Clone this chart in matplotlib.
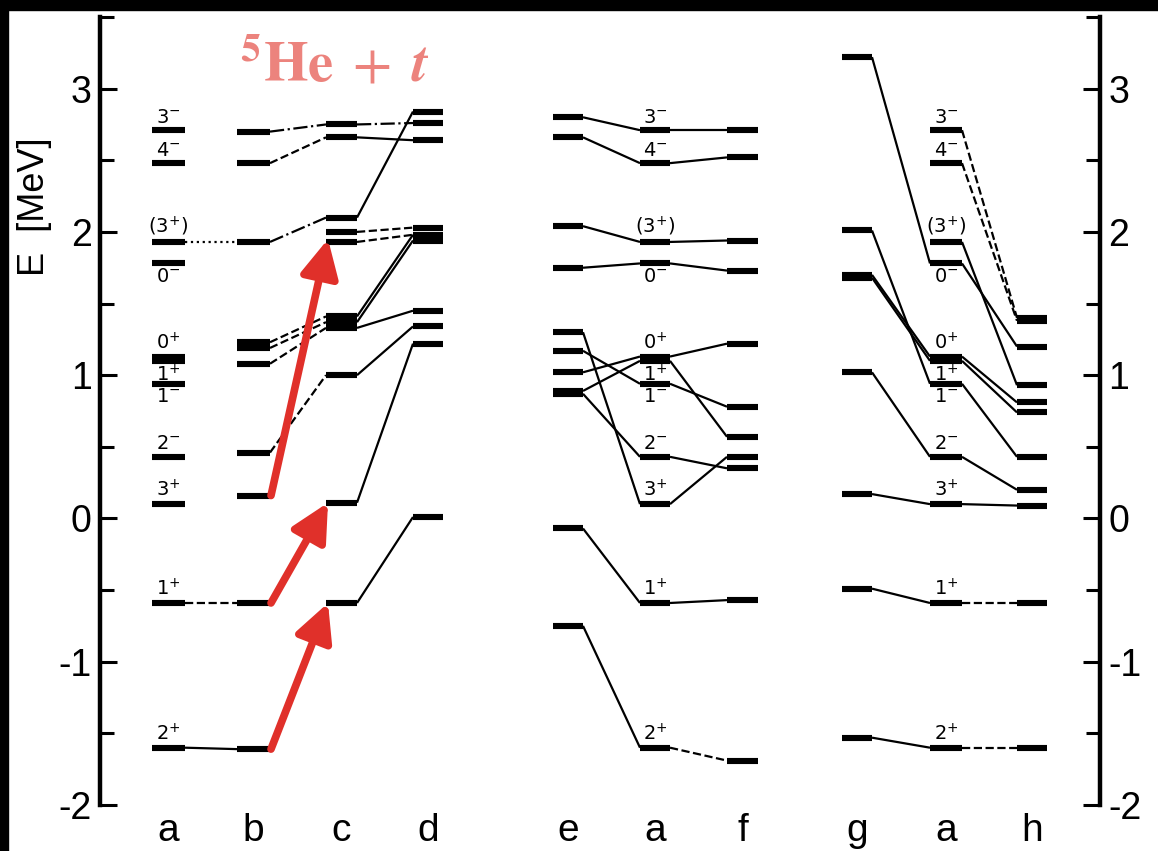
import matplotlib
matplotlib.use("Agg")
import matplotlib.pyplot as plt
from matplotlib.ticker import MultipleLocator, FixedLocator
from matplotlib.patches import Rectangle

plt.rcParams["axes.unicode_minus"] = False

# ---- level energies (MeV) per column ----
E_A = [2.71, 2.48, 1.93, 1.78, 1.13, 1.10, 0.94, 0.43, 0.10, -0.59, -1.60]
A_LABELS = [r"$3^{-}$", r"$4^{-}$", r"$(3^{+})$", r"$0^{-}$", r"$0^{+}$", r"$1^{+}$",
            r"$1^{-}$", r"$2^{-}$", r"$3^{+}$", r"$1^{+}$", r"$2^{+}$"]
A_LABEL_SIDE = ["above", "above", "above", "below", "above", "below",
                "below", "above", "above", "above", "above"]

E_B = [2.70, 2.48, 1.93, 1.23, 1.19, 1.08, 0.46, 0.16, -0.59, -1.61]
E_C = [2.75, 2.66, 2.10, 2.00, 1.93, 1.41, 1.37, 1.33, 1.00, 0.11, -0.59]
E_D = [2.84, 2.76, 2.64, 2.03, 1.98, 1.94, 1.45, 1.34, 1.22, 0.01]
E_E = [2.80, 2.66, 2.04, 1.75, 1.30, 1.17, 1.02, 0.89, 0.87, -0.07, -0.75]
E_F = [2.71, 2.52, 1.94, 1.73, 1.22, 0.78, 0.57, 0.43, 0.35, -0.57, -1.69]
E_G = [3.22, 2.01, 1.70, 1.68, 1.02, 0.17, -0.49, -1.53]
E_H = [1.40, 1.38, 1.20, 0.93, 0.81, 0.74, 0.43, 0.20, 0.09, -0.59, -1.60]

# correlation lines: (E_left, E_right, linestyle)
LINK_A1_B = [(1.93, 1.93, ":"), (-0.59, -0.59, "--"), (-1.60, -1.61, "-")]
LINK_B_C = [(2.70, 2.75, "-."), (2.48, 2.66, "--"), (1.93, 2.10, "-."),
            (1.23, 1.41, "--"), (1.19, 1.37, "--"), (1.08, 1.33, "--"),
            (0.46, 1.00, "--")]
LINK_C_D = [(2.75, 2.76, "-."), (2.66, 2.64, "-"), (2.10, 2.84, "-"),
            (2.00, 2.03, "--"), (1.93, 1.98, "--"), (1.41, 1.98, "-"),
            (1.37, 1.94, "-"), (1.33, 1.45, "-"), (1.00, 1.34, "-"),
            (0.11, 1.22, "-"), (-0.59, 0.01, "-")]
LINK_E_A2 = [(2.80, 2.71, "-"), (2.66, 2.48, "-"), (2.04, 1.93, "-"),
             (1.75, 1.78, "-"), (1.30, 0.10, "-"), (1.17, 0.94, "-"),
             (1.02, 1.13, "-"), (0.89, 1.10, "-"), (0.87, 0.43, "-"),
             (-0.07, -0.59, "-"), (-0.75, -1.60, "-")]
LINK_A2_F = [(2.71, 2.71, "-"), (2.48, 2.52, "-"), (1.93, 1.94, "-"),
             (1.78, 1.73, "-"), (1.13, 1.22, "-"), (1.10, 0.57, "-"),
             (0.94, 0.78, "-"), (0.43, 0.35, "-"), (0.10, 0.43, "-"),
             (-0.59, -0.57, "-"), (-1.60, -1.69, "--")]
LINK_G_A3 = [(3.22, 1.78, "-"), (2.01, 0.94, "-"), (1.70, 1.13, "-"),
             (1.68, 1.10, "-"), (1.02, 0.43, "-"), (0.17, 0.10, "-"),
             (-0.49, -0.59, "-"), (-1.53, -1.60, "-")]
LINK_A3_H = [(2.71, 1.40, "--"), (2.48, 1.38, "--"), (1.93, 0.93, "-"),
             (1.78, 1.20, "-"), (1.13, 0.81, "-"), (1.10, 0.74, "-"),
             (0.94, 0.43, "-"), (0.43, 0.20, "-"), (0.10, 0.09, "-"),
             (-0.59, -0.59, "--"), (-1.60, -1.60, "--")]

# 5He + t shifts (b -> c)
ARROWS_B_C = [(0.16, 1.95), (-0.59, 0.11), (-1.61, -0.59)]

COLUMN_NAMES = ["a", "b", "c", "d", "e", "a", "f", "g", "a", "h"]

# ---- layout (horizontal extent of each column's level bars) ----
SPAN = {"a1": (152, 185), "b": (237, 270), "c": (326, 357), "d": (413, 443),
        "e": (553, 583), "a2": (640, 670), "f": (727, 758),
        "g": (842, 872), "a3": (930, 962), "h": (1017, 1047)}
ORDER = ["a1", "b", "c", "d", "e", "a2", "f", "g", "a3", "h"]
LEVELS = {"a1": E_A, "b": E_B, "c": E_C, "d": E_D, "e": E_E, "a2": E_A,
          "f": E_F, "g": E_G, "a3": E_A, "h": E_H}
LINKS = [("a1", "b", LINK_A1_B), ("b", "c", LINK_B_C), ("c", "d", LINK_C_D),
         ("e", "a2", LINK_E_A2), ("a2", "f", LINK_A2_F),
         ("g", "a3", LINK_G_A3), ("a3", "h", LINK_A3_H)]

W, H = 1158, 851
fig = plt.figure(figsize=(W / 100, H / 100), dpi=100)
fig.patch.set_facecolor("white")
# dark scan edge along top and left
fig.add_artist(Rectangle((0, 1 - 10 / H), 1, 10 / H, transform=fig.transFigure,
                         color="black", zorder=10))
fig.add_artist(Rectangle((0, 0), 8 / W, 1, transform=fig.transFigure,
                         color="black", zorder=10))

ax = fig.add_axes([100 / W, 46 / H, 1000 / W, 788 / H])
ax.set_xlim(100, 1100)
ax.set_ylim(-2, 3.5)
ax.set_facecolor("none")

for s in ("top", "bottom"):
    ax.spines[s].set_visible(False)
for s in ("left", "right"):
    ax.spines[s].set_linewidth(3.2)

ax.yaxis.set_major_locator(MultipleLocator(1))
ax.yaxis.set_minor_locator(FixedLocator([-1.5, -0.5, 0.5, 1.5, 2.5, 3.5]))
ax.tick_params(axis="y", which="both", direction="in", left=True, right=True,
               labelleft=True, labelright=True, width=2.2, pad=6)
ax.tick_params(axis="y", which="major", length=12, labelsize=27)
ax.tick_params(axis="y", which="minor", length=10)
ax.set_xticks([])
for lab in ax.get_yticklabels():
    lab.set_fontfamily("Liberation Sans")

# level bars
for key in ORDER:
    x0, x1 = SPAN[key]
    ax.hlines(LEVELS[key], x0, x1, colors="black", linewidth=4.4,
              capstyle="butt")

# correlation lines
for left, right, pairs in LINKS:
    xl = SPAN[left][1]
    xr = SPAN[right][0]
    for e1, e2, ls in pairs:
        ax.plot([xl, xr], [e1, e2], color="black", linewidth=1.6,
                linestyle=ls, solid_capstyle="butt")

# spin-parity labels on the reference spectra
for key in ("a1", "a2", "a3"):
    xc = sum(SPAN[key]) / 2
    for e, lab, side in zip(E_A, A_LABELS, A_LABEL_SIDE):
        if side == "above":
            ax.text(xc, e + 0.025, lab, ha="center", va="bottom", fontsize=14)
        else:
            ax.text(xc, e - 0.025, lab, ha="center", va="top", fontsize=14)

# column letters
for key, name in zip(ORDER, COLUMN_NAMES):
    xc = sum(SPAN[key]) / 2
    ax.text(xc, -2.25, name, ha="center", va="baseline", fontsize=28,
            family="Liberation Sans", clip_on=False)

# red arrows b -> c
for e1, e2 in ARROWS_B_C:
    ax.annotate("", xy=(SPAN["c"][0] + 2, e2), xytext=(SPAN["b"][1] + 1, e1),
                arrowprops=dict(arrowstyle="-|>,head_length=0.75,head_width=0.38",
                                mutation_scale=30, color="#E0302A", lw=5.5,
                                shrinkA=0, shrinkB=0), zorder=5)

ax.text(240, 3.05, r"$^{\mathbf{5}}\mathbf{He}\;+\;\mathbfit{t}$", color="#EC837D",
        fontsize=41, math_fontfamily="stix", ha="left", va="baseline")

fig.text(34 / W, 1 - 207 / H, "E  [MeV]", rotation=90, ha="center",
         va="center", fontsize=26, family="Liberation Sans")

fig.savefig("out.png", dpi=100, facecolor=fig.get_facecolor())
